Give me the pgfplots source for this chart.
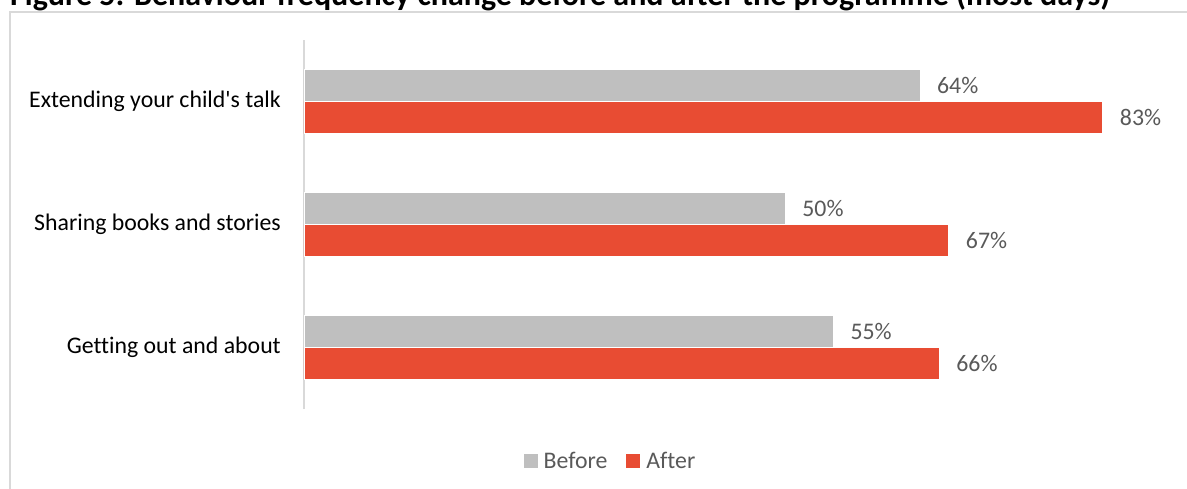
\documentclass[border=0pt]{standalone}
\usepackage{fontspec}
\setmainfont{Carlito}[Ligatures=NoCommon]
\usepackage{pgfplots}
\pgfplotsset{compat=1.18}

\definecolor{beforegray}{HTML}{BFBFBF}
\definecolor{afterred}{HTML}{E84C33}
\definecolor{labelgray}{HTML}{595959}
\definecolor{framegray}{HTML}{D9D9D9}

\newcommand{\chartfont}{\fontsize{23.8}{28}\selectfont}

\begin{document}
\begin{tikzpicture}[x=1pt,y=1pt]
\useasboundingbox (0,0) rectangle (1187,488);
\clip (0,0) rectangle (1187,488);

% chart title (partly above the page edge)
\node[anchor=base west, inner sep=0pt] at (10,482.5)
  {\resizebox{1100pt}{!}{\bfseries Figure 5: Behaviour frequency change before and after the programme (most days)}};

% chart area frame
\draw[framegray, line width=1.3pt] (10,-20) rectangle (1220,476);

\begin{axis}[
  at={(304pt,79pt)}, anchor=south west,
  scale only axis, width=866pt, height=369pt,
  xbar, bar width=32pt,
  xmin=0, xmax=90,
  ymin=-0.5, ymax=2.5,
  ytick={0,1,2},
  yticklabels={Getting out and about, Sharing books and stories, Extending your child\textquotesingle s talk},
  yticklabel style={anchor=east, inner sep=0pt, xshift=-23pt, font=\chartfont, text=black},
  major tick length=0pt,
  axis x line=none,
  axis y line=left,
  y axis line style={-, draw=framegray, line width=1.3pt},
  clip=false,
  point meta=x,
  /pgf/number format/assume math mode=true,
  nodes near coords={\pgfmathprintnumber{\pgfplotspointmeta}\%},
  every node near coord/.style={anchor=west, inner sep=0pt, xshift=17pt, font=\chartfont, text=labelgray},
  legend columns=2,
  legend style={
    at={(0.3528,-0.1409)}, anchor=center,
    draw=none, fill=none,
    font=\chartfont, text=labelgray,
    nodes={inner sep=0pt},
    /tikz/every odd column/.append style={column sep=6pt},
    /tikz/every even column/.append style={column sep=19pt},
  },
  legend image code/.code={\fill[#1,draw=none] (0pt,-7pt) rectangle (14pt,7pt);},
]
\addplot[fill=beforegray, draw=white, line width=0.6pt, bar shift=16pt,
  every node near coord/.append style={yshift=16pt}]
  coordinates {(55,0) (50,1) (64,2)};
\addlegendentry{Before}
\addplot[fill=afterred, draw=white, line width=0.6pt, bar shift=-16pt,
  every node near coord/.append style={yshift=-16pt}]
  coordinates {(66,0) (67,1) (83,2)};
\addlegendentry{After}
\end{axis}
\end{tikzpicture}
\end{document}
